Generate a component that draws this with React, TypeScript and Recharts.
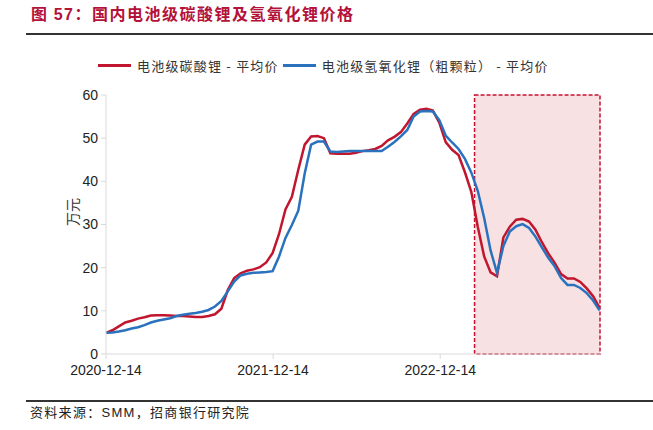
import { LineChart, Line, XAxis, YAxis, ReferenceArea } from 'recharts'

const dates = [
  '2020-12-14', '2020-12-28', '2021-01-11', '2021-01-25', '2021-02-08', '2021-02-22', '2021-03-08', '2021-03-22', '2021-04-05', '2021-04-19',
  '2021-05-03', '2021-05-17', '2021-05-31', '2021-06-14', '2021-06-28', '2021-07-12', '2021-07-26', '2021-08-09', '2021-08-23', '2021-09-06',
  '2021-09-20', '2021-10-04', '2021-10-18', '2021-11-01', '2021-11-15', '2021-11-29', '2021-12-13', '2021-12-27', '2022-01-10', '2022-01-24',
  '2022-02-07', '2022-02-21', '2022-03-07', '2022-03-21', '2022-04-04', '2022-04-18', '2022-05-02', '2022-05-16', '2022-05-30', '2022-06-13',
  '2022-06-27', '2022-07-11', '2022-07-25', '2022-08-08', '2022-08-22', '2022-09-05', '2022-09-19', '2022-10-03', '2022-10-17', '2022-10-31',
  '2022-11-14', '2022-11-28', '2022-12-12', '2022-12-26', '2023-01-09', '2023-01-23', '2023-02-06', '2023-02-20', '2023-03-06', '2023-03-20',
  '2023-04-03', '2023-04-17', '2023-05-01', '2023-05-15', '2023-05-29', '2023-06-12', '2023-06-26', '2023-07-10', '2023-07-24', '2023-08-07',
  '2023-08-21', '2023-09-04', '2023-09-18', '2023-10-02', '2023-10-16', '2023-10-30', '2023-11-13', '2023-11-27',
]

// 电池级碳酸锂 - 平均价（万元）
const carbonate = [
  4.9, 5.5, 6.4, 7.3, 7.7, 8.2, 8.5, 8.9, 9.0, 9.0,
  8.9, 8.8, 8.8, 8.7, 8.6, 8.6, 8.8, 9.2, 10.5, 14.8,
  17.6, 18.7, 19.3, 19.6, 20.1, 21.2, 23.4, 27.8, 33.5, 36.4,
  42.7, 48.5, 50.4, 50.5, 50.0, 46.5, 46.4, 46.4, 46.4, 46.6,
  47.0, 47.2, 47.5, 48.2, 49.5, 50.3, 51.4, 53.4, 55.6, 56.6,
  56.8, 56.4, 53.6, 49.1, 47.3, 46.1, 42.1, 37.5, 29.5, 22.6,
  18.9, 18.0, 27.0, 29.5, 31.1, 31.3, 30.7, 28.8, 25.9, 23.3,
  21.1, 18.5, 17.5, 17.5, 16.7, 15.2, 13.4, 10.7,
]

// 电池级氢氧化锂（粗颗粒） - 平均价（万元）
const hydroxide = [
  4.9, 5.0, 5.2, 5.5, 5.9, 6.2, 6.7, 7.3, 7.7, 8.0,
  8.3, 8.8, 9.1, 9.3, 9.5, 9.8, 10.2, 11.0, 12.3, 14.5,
  16.8, 18.2, 18.6, 18.8, 18.9, 19.0, 19.2, 22.6, 26.9, 29.9,
  33.2, 41.8, 48.5, 49.2, 49.2, 46.9, 46.8, 46.9, 47.0, 47.0,
  47.0, 47.0, 47.0, 47.0, 48.0, 49.1, 50.4, 51.9, 55.0, 56.2,
  56.3, 56.2, 54.2, 50.6, 49.0, 47.5, 45.2, 42.0, 37.8, 31.5,
  24.0, 18.8, 25.0, 28.4, 29.6, 30.1, 29.2, 27.2, 24.7, 22.3,
  20.3, 17.6, 16.0, 16.0, 15.3, 14.1, 12.4, 10.1,
]

const xTicks = ['2020-12-14', '2021-12-14', '2022-12-14']
const yTicks = [0, 10, 20, 30, 40, 50, 60]
const shadeFrom = '2023-02-27'
const axisEnd = '2023-11-28'

const RED = '#c0162e'
const BLUE = '#2a72be'
const CJK = '"Noto Sans CJK SC", sans-serif'
const LATIN = '"Liberation Sans", Arial, sans-serif'

const toTime = (d: string) => Date.parse(d + 'T00:00:00Z')
const fmtDate = (t: number) => new Date(t).toISOString().slice(0, 10)

const data = dates.map((d, i) => ({
  t: toTime(d),
  carbonate: carbonate[i],
  hydroxide: hydroxide[i],
}))

function LegendItem({ color, label }: { color: string; label: string }) {
  return (
    <span style={{ display: 'inline-flex', alignItems: 'center', marginRight: 4 }}>
      <span style={{ display: 'inline-block', width: 33, height: 3, background: color, marginRight: 6 }} />
      <span>{label}</span>
    </span>
  )
}

export default function App() {
  return (
    <div
      style={{
        position: 'absolute',
        left: 0,
        top: 0,
        width: 653,
        height: 430,
        background: '#fff',
        fontFamily: CJK,
        color: '#222',
      }}
    >
      <div
        style={{
          position: 'absolute',
          left: 31,
          top: 1,
          fontSize: 16,
          fontWeight: 700,
          letterSpacing: 1.5,
          color: '#b3123a',
          whiteSpace: 'nowrap',
        }}
      >
        图 <span style={{ fontFamily: LATIN }}>57</span>：国内电池级碳酸锂及氢氧化锂价格
      </div>
      <div style={{ position: 'absolute', left: 26, right: 0, top: 33, height: 1.5, background: '#333' }} />

      <div
        style={{
          position: 'absolute',
          left: 98,
          top: 56,
          fontSize: 13,
          letterSpacing: 1.2,
          color: '#333',
          whiteSpace: 'nowrap',
          display: 'flex',
        }}
      >
        <LegendItem color={RED} label="电池级碳酸锂 - 平均价" />
        <LegendItem color={BLUE} label="电池级氢氧化锂（粗颗粒） - 平均价" />
      </div>

      <div
        style={{
          position: 'absolute',
          left: 72,
          top: 212,
          transform: 'translate(-50%, -50%) rotate(-90deg)',
          fontSize: 14,
          color: '#333',
          whiteSpace: 'nowrap',
        }}
      >
        万元
      </div>

      <LineChart
        width={653}
        height={430}
        data={data}
        margin={{ top: 95, right: 53, bottom: 46, left: 56 }}
        style={{ position: 'absolute', left: 0, top: 0 }}
      >
        <XAxis
          dataKey="t"
          type="number"
          scale="time"
          domain={[toTime(dates[0]), toTime(axisEnd)]}
          ticks={xTicks.map(toTime)}
          tickFormatter={fmtDate}
          height={30}
          tickSize={5}
          tickMargin={6}
          stroke="#d9d9d9"
          tick={{ fill: '#222', fontSize: 14, fontFamily: LATIN }}
        />
        <YAxis
          type="number"
          domain={[0, 60]}
          ticks={yTicks}
          width={50}
          tickSize={5}
          tickMargin={3}
          stroke="#d9d9d9"
          tick={{ fill: '#222', fontSize: 14, fontFamily: LATIN }}
        />
        <ReferenceArea
          x1={toTime(shadeFrom)}
          x2={toTime(axisEnd)}
          y1={0}
          y2={60}
          fill="#f7e1e3"
          fillOpacity={1}
          stroke="#c8102e"
          strokeWidth={1.5}
          strokeDasharray="4 2"
        />
        <Line
          type="linear"
          dataKey="carbonate"
          stroke={RED}
          strokeWidth={2.5}
          dot={false}
          isAnimationActive={false}
        />
        <Line
          type="linear"
          dataKey="hydroxide"
          stroke={BLUE}
          strokeWidth={2.5}
          dot={false}
          isAnimationActive={false}
        />
      </LineChart>

      <div style={{ position: 'absolute', left: 26, right: 0, top: 400, height: 1.5, background: '#333' }} />
      <div
        style={{
          position: 'absolute',
          left: 30,
          top: 402,
          fontSize: 13,
          letterSpacing: 1.3,
          color: '#222',
          whiteSpace: 'nowrap',
        }}
      >
        资料来源：<span style={{ fontFamily: LATIN }}>SMM</span>，招商银行研究院
      </div>
    </div>
  )
}
